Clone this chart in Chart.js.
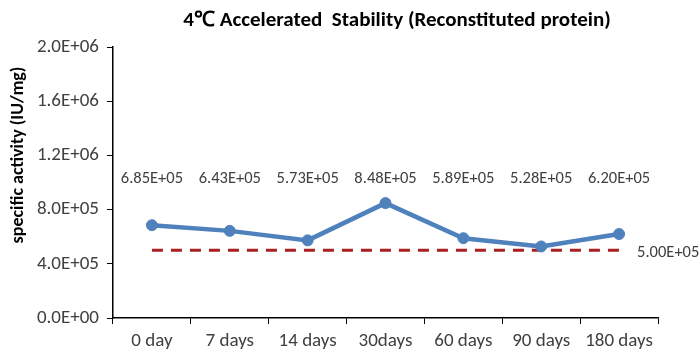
<!DOCTYPE html>
<html>
<head>
<meta charset="utf-8">
<script src="https://cdn.jsdelivr.net/npm/chart.js@4"></script>
<style>
  html, body { margin: 0; padding: 0; background: #fff; }
  #wrap { width: 700px; height: 359px; }
</style>
</head>
<body>
<div id="wrap"><canvas id="stabChart"></canvas></div>
<script>
// data
const days = ['0 day', '7 days', '14 days', '30days', '60 days', '90 days', '180 days'];
const activity = [685000, 643000, 573000, 848000, 589000, 528000, 620000];
const limitValue = 500000;
const limitLine = days.map(() => limitValue);
const yTicks = [0, 400000, 800000, 1200000, 1600000, 2000000];

const titleText = '4\u2103 Accelerated  Stability (Reconstituted protein)';
const yTitle = 'specific activity (IU/mg)';
const fontFam = 'Carlito, "Liberation Sans Narrow", "Open Sans", sans-serif';

function sci(v, d) {
    const parts = v.toExponential(d).split('e');
    const sign = parts[1][0];
    const exp = parts[1].slice(1).padStart(2, '0');
    return parts[0] + 'E' + sign + exp;
}

// title, data labels and limit label
const extras = {
    id: 'extras',
    afterDatasetsDraw(chart) {
        const c = chart.ctx;
        const xs = chart.scales.x;
        const ys = chart.scales.y;
        c.save();
        c.fillStyle = '#000';
        c.font = 'bold 21px ' + fontFam;
        c.textAlign = 'center';
        c.textBaseline = 'middle';
        c.fillText(titleText, 397, 21);

        c.font = '16.5px ' + fontFam;
        c.fillStyle = '#404040';
        const labelY = ys.getPixelForValue(1025000);
        activity.forEach((v, i) => {
            c.fillText(sci(v, 2), xs.getPixelForValue(i), labelY);
        });
        c.textAlign = 'left';
        const last = days.length - 1;
        c.fillText(sci(limitValue, 2), xs.getPixelForValue(last) + 18, ys.getPixelForValue(limitValue) + 3);

        c.translate(18, 155);
        c.rotate(-Math.PI / 2);
        c.textAlign = 'center';
        c.fillStyle = '#000';
        c.font = 'bold 18px ' + fontFam;
        c.fillText(yTitle, 0, 0);
        c.restore();
    }
};

const ctx = document.getElementById('stabChart').getContext('2d');
const stabChart = new Chart(ctx, {
    type: 'line',
    data: {
        labels: days,
        datasets: [{
            label: 'specific activity',
            data: activity,
            borderColor: '#4F81BD',
            backgroundColor: '#4F81BD',
            borderWidth: 4.5,
            pointRadius: 5.5,
            pointHoverRadius: 5.5,
            pointBorderWidth: 1,
            tension: 0,
            order: 1
        }, {
            label: 'limit',
            data: limitLine,
            borderColor: '#A8201F',
            borderWidth: 3,
            borderDash: [11, 8],
            pointRadius: 0,
            tension: 0,
            order: 2
        }]
    },
    options: {
        responsive: true,
        maintainAspectRatio: false,
        animation: false,
        layout: { padding: { top: 47, right: 42, left: 0, bottom: 0 } },
        plugins: {
            legend: { display: false },
            tooltip: { enabled: false }
        },
        scales: {
            x: {
                offset: true,
                grid: { offset: true, drawOnChartArea: false, color: '#000', tickLength: 6 },
                border: { color: '#000', width: 1.5 },
                ticks: { color: '#404040', font: { family: fontFam, size: 19 }, padding: 6, maxRotation: 0, autoSkip: false },
                afterFit(scale) { scale.height = 41; }
            },
            y: {
                min: 0,
                max: 2000000,
                afterBuildTicks(scale) { scale.ticks = yTicks.map(v => ({ value: v })); },
                grid: { drawOnChartArea: false, color: '#000', tickLength: 6 },
                border: { color: '#000', width: 1.5 },
                ticks: {
                    color: '#404040',
                    font: { family: fontFam, size: 19 },
                    padding: 8,
                    callback: v => sci(v, 1)
                },
                afterFit(scale) { scale.width = 113; }
            }
        }
    },
    plugins: [extras]
});
</script>
</body>
</html>
